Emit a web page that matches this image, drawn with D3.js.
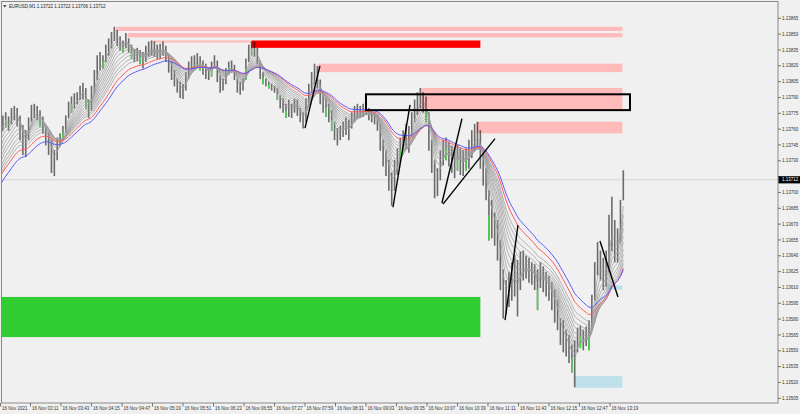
<!DOCTYPE html>
<html><head><meta charset="utf-8">
<script src="https://cdn.jsdelivr.net/npm/d3@7"></script>
<style>
html,body{margin:0;padding:0;background:#f0f0f0;}
svg{display:block;}
text{font-family:"Liberation Sans",Arial,sans-serif;}
</style></head><body>
<svg id="c" width="800" height="414"></svg>
<script>
// ---------------- DATA ----------------
const symbolTitle = "EURUSD,M1";
const titleQuote = [1.13722, 1.13722, 1.13706, 1.13712];
const lastPrice = 1.13712;
const barMinutes = 3; // minutes after 16 Nov 02:39 per bar step

const barHigh = [
1.13769,1.13773,1.13776,1.13772,1.13780,1.13782,1.13780,1.13773,1.13764,1.13759,
1.13771,1.13783,1.13784,1.13782,1.13778,1.13772,1.13764,1.13757,1.13750,1.13740,
1.13752,1.13756,1.13763,1.13773,1.13786,1.13791,1.13794,1.13795,1.13801,1.13804,
1.13799,1.13788,1.13801,1.13816,1.13830,1.13833,1.13830,1.13840,1.13846,1.13852,
1.13857,1.13854,1.13848,1.13844,1.13851,1.13846,1.13840,1.13835,1.13837,1.13835,
1.13833,1.13839,1.13843,1.13844,1.13843,1.13840,1.13841,1.13843,1.13839,1.13830,
1.13824,1.13816,1.13808,1.13805,1.13803,1.13814,1.13824,1.13829,1.13830,1.13832,
1.13829,1.13825,1.13822,1.13818,1.13824,1.13830,1.13825,1.13811,1.13808,1.13818,
1.13824,1.13825,1.13821,1.13808,1.13805,1.13808,1.13827,1.13840,1.13843,1.13843,
1.13837,1.13825,1.13814,1.13808,1.13805,1.13803,1.13801,1.13799,1.13792,1.13789,
1.13784,1.13788,1.13784,1.13789,1.13788,1.13780,1.13776,1.13789,1.13803,1.13814,
1.13822,1.13820,1.13807,1.13795,1.13789,1.13784,1.13778,1.13767,1.13761,1.13763,
1.13767,1.13771,1.13769,1.13776,1.13782,1.13784,1.13782,1.13784,1.13786,1.13780,
1.13778,1.13776,1.13774,1.13765,1.13750,1.13740,1.13731,1.13719,1.13731,1.13742,
1.13752,1.13759,1.13765,1.13763,1.13776,1.13788,1.13795,1.13799,1.13795,1.13791,
1.13776,1.13750,1.13731,1.13723,1.13740,1.13750,1.13752,1.13748,1.13744,1.13740,
1.13745,1.13742,1.13740,1.13742,1.13750,1.13759,1.13765,1.13767,1.13759,1.13740,
1.13723,1.13702,1.13693,1.13681,1.13674,1.13655,1.13627,1.13617,1.13625,1.13634,
1.13641,1.13636,1.13644,1.13645,1.13640,1.13638,1.13634,1.13632,1.13627,1.13634,
1.13630,1.13625,1.13621,1.13615,1.13608,1.13598,1.13581,1.13579,1.13570,1.13565,
1.13556,1.13560,1.13572,1.13574,1.13570,1.13573,1.13579,1.13603,1.13634,1.13653,
1.13645,1.13638,1.13645,1.13679,1.13696,1.13674,1.13666,1.13693,1.13721];

const barLow = [
1.13753,1.13759,1.13762,1.13759,1.13765,1.13769,1.13763,1.13750,1.13736,1.13734,
1.13750,1.13767,1.13771,1.13769,1.13763,1.13756,1.13745,1.13736,1.13719,1.13716,
1.13731,1.13744,1.13750,1.13757,1.13771,1.13776,1.13780,1.13784,1.13788,1.13789,
1.13780,1.13771,1.13778,1.13795,1.13807,1.13816,1.13818,1.13824,1.13830,1.13837,
1.13844,1.13839,1.13835,1.13833,1.13837,1.13833,1.13827,1.13824,1.13825,1.13822,
1.13818,1.13824,1.13829,1.13830,1.13829,1.13827,1.13827,1.13830,1.13824,1.13814,
1.13807,1.13801,1.13795,1.13790,1.13789,1.13797,1.13808,1.13816,1.13818,1.13820,
1.13816,1.13812,1.13808,1.13807,1.13810,1.13818,1.13805,1.13795,1.13797,1.13803,
1.13812,1.13814,1.13807,1.13795,1.13793,1.13797,1.13807,1.13824,1.13830,1.13829,
1.13822,1.13808,1.13803,1.13801,1.13799,1.13797,1.13795,1.13788,1.13780,1.13776,
1.13771,1.13772,1.13771,1.13776,1.13773,1.13767,1.13761,1.13767,1.13784,1.13795,
1.13803,1.13799,1.13784,1.13776,1.13772,1.13767,1.13759,1.13750,1.13745,1.13750,
1.13753,1.13755,1.13750,1.13761,1.13767,1.13771,1.13771,1.13772,1.13774,1.13769,
1.13767,1.13765,1.13759,1.13740,1.13725,1.13716,1.13702,1.13688,1.13702,1.13717,
1.13729,1.13740,1.13742,1.13738,1.13753,1.13767,1.13774,1.13780,1.13776,1.13767,
1.13740,1.13719,1.13695,1.13697,1.13712,1.13726,1.13731,1.13725,1.13719,1.13714,
1.13721,1.13717,1.13716,1.13721,1.13723,1.13733,1.13740,1.13742,1.13723,1.13707,
1.13693,1.13655,1.13657,1.13650,1.13636,1.13608,1.13581,1.13585,1.13592,1.13598,
1.13602,1.13583,1.13608,1.13617,1.13619,1.13615,1.13613,1.13608,1.13589,1.13610,
1.13606,1.13602,1.13598,1.13589,1.13577,1.13570,1.13556,1.13549,1.13545,1.13539,
1.13530,1.13516,1.13549,1.13553,1.13551,1.13555,1.13551,1.13570,1.13598,1.13622,
1.13617,1.13608,1.13611,1.13625,1.13645,1.13634,1.13634,1.13653,1.13693];

const greenBars = [2,14,22,25,30,36,43,46,49,70,74,80,86,88,92,94,97,100,114,116,140,149,156,160,163,171,188,200,203,206];

// moving-average ribbon (applied to median price): periods in minutes and values read at chart start
const ribbonPeriods = [8,12,16,20,25,30,36,42,49,56];
const ribbonStart   = [1.13758,1.13753,1.13748,1.13742,1.13737,1.13732,1.13728,1.13723,1.13720,1.13717];
const redPeriod = 68,  redStart = 1.13715;
const bluePeriod = 80, blueStart = 1.13707;

// 1.13715 sits under the current-price box, so only its tick mark is drawn
const priceTicks = [1.13865,1.13850,1.13835,1.13820,1.13805,1.13790,1.13775,1.13760,1.13745,1.13730,1.13715,
  1.13700,1.13685,1.13670,1.13655,1.13640,1.13625,1.13610,1.13595,1.13580,1.13565,1.13550,1.13535,1.13520,1.13505];
const hiddenPriceTicks = [1.13715];
const timeTickMinutes = [0,32,64,96,128,160,192,224,256,288,320,352,384,416,448,480,512,544,576,608,640];
const timeTickLabels = ["16 Nov 2021","16 Nov 03:11","16 Nov 03:43","16 Nov 04:15","16 Nov 04:47","16 Nov 05:19",
  "16 Nov 05:51","16 Nov 06:23","16 Nov 06:55","16 Nov 07:27","16 Nov 07:59","16 Nov 08:31","16 Nov 09:03",
  "16 Nov 09:35","16 Nov 10:07","16 Nov 10:39","16 Nov 11:11","16 Nov 11:43","16 Nov 12:15","16 Nov 12:47","16 Nov 13:19"];

// chart objects (time in minutes after 02:39, prices)
const zoneRects = [
  {t1:122, t2:653, p1:1.13857, p2:1.13853, kind:"pink"},
  {t1:134, t2:653, p1:1.13851, p2:1.13847, kind:"pink"},
  {t1:160, t2:264, p1:1.13844, p2:1.13842, kind:"pink"},
  {t1:264, t2:504, p1:1.13844, p2:1.13837, kind:"red"},
  {t1:334, t2:653, p1:1.13822, p2:1.13814, kind:"pink"},
  {t1:442, t2:653, p1:1.13799, p2:1.13778, kind:"pink"},
  {t1:500, t2:653, p1:1.13767, p2:1.13756, kind:"pink"},
  {t1:-5,  t2:504, p1:1.13601, p2:1.13563, kind:"green"},
  {t1:602, t2:653, p1:1.13526, p2:1.13515, kind:"blue"},
  {t1:637, t2:653, p1:1.13612, p2:1.13608, kind:"blue"}
];
const outlineRects = [{t1:384, t2:661, p1:1.13793, p2:1.13778}];
const trendLines = [
  {t1:320,   p1:1.13761, t2:335.7, p2:1.13820},
  {t1:412.3, p1:1.13686, t2:430.2, p2:1.13783},
  {t1:463.7, p1:1.13690, t2:484.7, p2:1.13770},
  {t1:464.8, p1:1.13689, t2:519.4, p2:1.13751},
  {t1:529.9, p1:1.13579, t2:543.5, p2:1.13669},
  {t1:629.5, p1:1.13654, t2:648.4, p2:1.13601}
];

// ---------------- DRAW ----------------
const W = 800, H = 414;
const plot = {l:1.5, t:1.5, r:778, b:403};
const svg = d3.select("#c");
const x = d3.scaleLinear().domain([0, 816.3]).range([0, 778]);
const y = d3.scaleLinear().domain([1.13505, 1.13865]).range([398.3, 18.3]);

svg.append("rect").attr("width",W).attr("height",H).attr("fill","#f0f0f0");
svg.append("defs").append("clipPath").attr("id","pc").append("rect")
  .attr("x",plot.l).attr("y",plot.t).attr("width",plot.r-plot.l).attr("height",plot.b-plot.t);
const g = svg.append("g").attr("clip-path","url(#pc)");

// current price line
g.append("line").attr("x1",plot.l).attr("x2",plot.r).attr("y1",y(lastPrice)).attr("y2",y(lastPrice))
  .attr("stroke","#d6d6d6").attr("stroke-width",1);

const colors = {pink:"#ffbaba", red:"#ff0000", green:"#32cd32", blue:"#bde0ea"};
g.selectAll("rect.zn").data(zoneRects.filter(d=>d.kind==="green"||d.kind==="blue")).join("rect")
  .attr("x",d=>x(d.t1)).attr("width",d=>x(d.t2)-x(d.t1))
  .attr("y",d=>y(d.p1)).attr("height",d=>y(d.p2)-y(d.p1))
  .attr("fill",d=>colors[d.kind]);

// bars
const bars = barHigh.map((h,i)=>({i, t:i*barMinutes, h, l:barLow[i]}));
const greenSet = new Set(greenBars);
g.selectAll("line.bar").data(bars).join("line")
  .attr("x1",d=>x(d.t)).attr("x2",d=>x(d.t))
  .attr("y1",d=>y(d.h)).attr("y2",d=>y(d.l)+0.5)
  .attr("stroke","#6a6a6a").attr("stroke-width",1.6);
// green (bullish) segments: lower half of the marked bars
g.selectAll("line.gb").data(bars.filter(d=>greenSet.has(d.i))).join("line")
  .attr("x1",d=>x(d.t)).attr("x2",d=>x(d.t))
  .attr("y1",d=>y((d.h+d.l)/2)).attr("y2",d=>y(d.l)+0.5)
  .attr("stroke","#44dd44").attr("stroke-width",1.4);

// moving averages on median price
function ema(period, start){
  const a = 2/(period/barMinutes+1);
  let v = start; const out=[];
  bars.forEach((d,i)=>{ const m=(d.h+d.l)/2; if(i>0) v = v + a*(m-v); out.push({t:d.t, v}); });
  return out;
}
const line = d3.line().x(d=>x(d.t)).y(d=>y(d.v)).curve(d3.curveMonotoneX);
ribbonPeriods.forEach((p,k)=>{
  g.append("path").attr("d",line(ema(p, ribbonStart[k]))).attr("fill","none")
    .attr("stroke","#9c9c9c").attr("stroke-width",0.75);
});
g.append("path").attr("d",line(ema(redPeriod, redStart))).attr("fill","none").attr("stroke","#ff5a5a").attr("stroke-width",1);
g.append("path").attr("d",line(ema(bluePeriod, blueStart))).attr("fill","none").attr("stroke","#5a5aff").attr("stroke-width",1);

// blended zones (pink / red) over bars
g.selectAll("rect.zb").data(zoneRects.filter(d=>d.kind==="pink"||d.kind==="red")).join("rect")
  .attr("x",d=>x(d.t1)).attr("width",d=>x(d.t2)-x(d.t1))
  .attr("y",d=>y(d.p1)).attr("height",d=>y(d.p2)-y(d.p1))
  .attr("fill",d=>colors[d.kind]).style("mix-blend-mode","multiply");

g.selectAll("rect.ol").data(outlineRects).join("rect")
  .attr("x",d=>x(d.t1)).attr("width",d=>x(d.t2)-x(d.t1))
  .attr("y",d=>y(d.p1)).attr("height",d=>y(d.p2)-y(d.p1))
  .attr("fill","none").attr("stroke","#000").attr("stroke-width",2);

g.selectAll("line.tl").data(trendLines).join("line")
  .attr("x1",d=>x(d.t1)).attr("y1",d=>y(d.p1)).attr("x2",d=>x(d.t2)).attr("y2",d=>y(d.p2))
  .attr("stroke","#000").attr("stroke-width",1.4);

// frame
svg.append("rect").attr("x",plot.l).attr("y",plot.t).attr("width",plot.r-plot.l).attr("height",plot.b-plot.t)
  .attr("fill","none").attr("stroke","#8a8a8a").attr("stroke-width",1);

// price axis
const pa = svg.append("g");
priceTicks.forEach(p=>{
  pa.append("line").attr("x1",plot.r).attr("x2",plot.r+3).attr("y1",y(p)).attr("y2",y(p)).attr("stroke","#555").attr("stroke-width",0.8);
  if (!hiddenPriceTicks.includes(p))
    pa.append("text").attr("x",plot.r+4).attr("y",y(p)).attr("dy","0.35em").attr("font-size",4.5).attr("fill","#333").text(p.toFixed(5));
});
pa.append("rect").attr("x",plot.r+0.5).attr("y",y(lastPrice)-3.6).attr("width",W-plot.r).attr("height",7.2).attr("fill","#000");
pa.append("text").attr("x",plot.r+4).attr("y",y(lastPrice)).attr("dy","0.35em").attr("font-size",4.5).attr("fill","#fff").text(lastPrice.toFixed(5));

// time axis
const ta = svg.append("g");
timeTickMinutes.forEach((m,i)=>{
  const xx = Math.max(x(m),0.5);
  ta.append("line").attr("x1",xx).attr("x2",xx).attr("y1",plot.b).attr("y2",plot.b+3.5).attr("stroke","#555").attr("stroke-width",0.8);
  ta.append("text").attr("x",xx+1.6).attr("y",410.3).attr("font-size",4.5).attr("fill","#333").text(timeTickLabels[i]);
});

// title
svg.append("path").attr("d","M3,5.2 L6.6,5.2 L4.8,7.6 Z").attr("fill","#333");
svg.append("text").attr("x",9).attr("y",7.6).attr("font-size",4.5).attr("fill","#222")
  .text(symbolTitle + "  " + titleQuote.map(v=>v.toFixed(5)).join(" "));
</script></body></html>
